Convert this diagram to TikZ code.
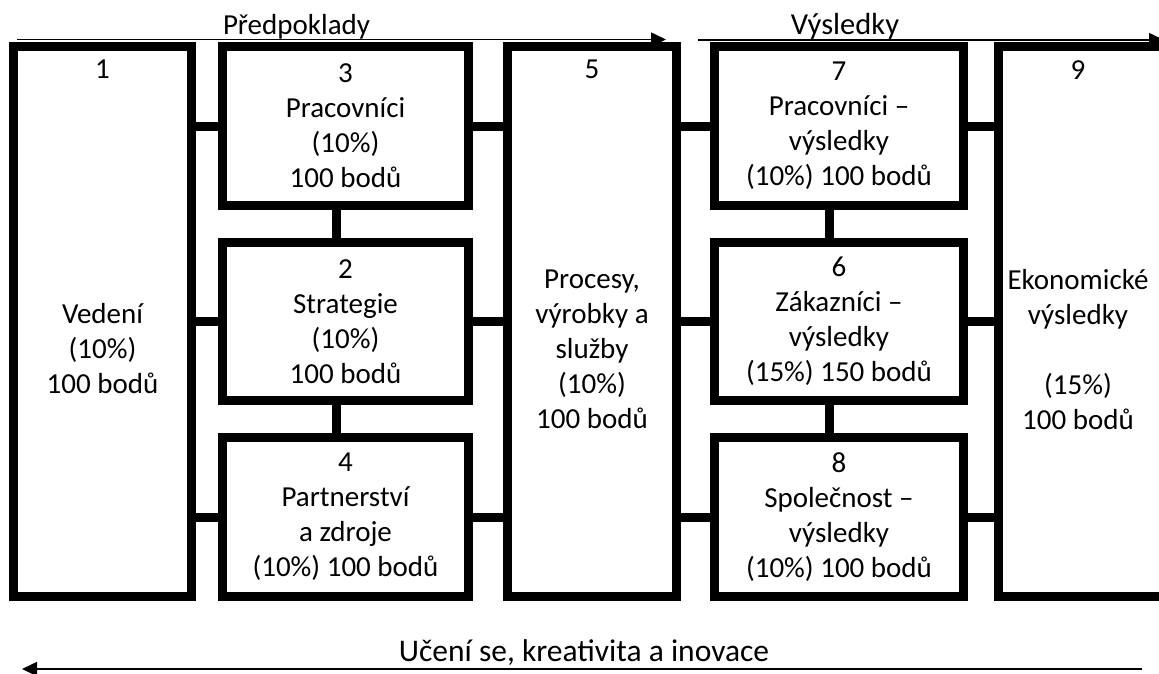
\documentclass[tikz,border=0pt]{standalone}
\usepackage{fontspec}
\setmainfont{Carlito}
\usetikzlibrary{arrows.meta}
\begin{document}
\begin{tikzpicture}[x=1pt,y=-1pt,
  txt/.style={font=\fontsize{29}{35}\selectfont, align=center, inner sep=0pt},
  box/.style={txt, draw, line width=9pt, rectangle},
  conn/.style={line width=9pt},
  flow/.style={line width=1.6pt, -{Triangle[length=15pt,width=14pt]}}]
\useasboundingbox (0,0) rectangle (1159,673);
\fill[white] (0,0) rectangle (1159,673);
\clip (0,0) rectangle (1159,673);
% boxes
\node[box, minimum width=178pt, minimum height=550pt] (b1) at (102.5,321.5) {};
\node[box, minimum width=246pt, minimum height=159pt] (b3) at (345.5,126) {3\\Pracovníci\\(10\%)\\100 bodů};
\node[box, minimum width=246pt, minimum height=158pt] (b2) at (345.5,321.5) {2\\Strategie\\(10\%)\\100 bodů};
\node[box, minimum width=246pt, minimum height=159pt] (b4) at (345.5,517) {4\\Partnerství\\a zdroje\\(10\%) 100 bodů};
\node[box, minimum width=169pt, minimum height=550pt] (b5) at (592,321.5) {};
\node[box, minimum width=249pt, minimum height=159pt] (b7) at (839,126) {7\\Pracovníci –\\výsledky\\(10\%) 100 bodů};
\node[box, minimum width=249pt, minimum height=158pt] (b6) at (839,321.5) {6\\Zákazníci –\\výsledky\\(15\%) 150 bodů};
\node[box, minimum width=249pt, minimum height=159pt] (b8) at (839,517) {8\\Společnost –\\výsledky\\(10\%) 100 bodů};
\node[box, minimum width=172pt, minimum height=550pt] (b9) at (1084.5,321.5) {};
% texts of the tall boxes
\node[txt, anchor=north] (t1) at (102.5,60) {1\\[210pt]Vedení\\(10\%)\\100 bodů};
\node[txt, anchor=north] (t5) at (592,60) {5\\[175pt]Procesy,\\výrobky a\\služby\\(10\%)\\100 bodů};
\node[txt, anchor=north] (t9) at (1078,60) {9\\[175pt]Ekonomické\\výsledky\\[35pt](15\%)\\100 bodů};
% horizontal connectors
\foreach \m in {b3,b2,b4} {
  \draw[conn] (\m.west) -- (\m.west -| b1.east);
  \draw[conn] (\m.east) -- (\m.east -| b5.west);
}
\foreach \m in {b7,b6,b8} {
  \draw[conn] (\m.west) -- (\m.west -| b5.east);
  \draw[conn] (\m.east) -- (\m.east -| b9.west);
}
% vertical connectors
\draw[conn] ([xshift=-9.5pt]b3.south) -- ([xshift=-9.5pt]b2.north);
\draw[conn] ([xshift=-9.5pt]b2.south) -- ([xshift=-9.5pt]b4.north);
\draw[conn] ([xshift=-10pt]b7.south) -- ([xshift=-10pt]b6.north);
\draw[conn] ([xshift=-10pt]b6.south) -- ([xshift=-10pt]b8.north);
% flow arrows
\coordinate (p0) at (17,39.5);
\coordinate (p1) at (666,39.5);
\coordinate (v0) at (698,40);
\coordinate (v1) at (1164,40);
\coordinate (u0) at (1142,669);
\coordinate (u1) at (22,669);
\draw[flow] (p0) -- (p1);
\draw[flow] (v0) -- (v1);
\draw[flow] (u0) -- (u1);
\node[txt, anchor=base] (lp) at (296.5,34) {Předpoklady};
\node[txt, anchor=base, font=\fontsize{30.5}{35}\selectfont] (lv) at (845,34) {Výsledky};
\node[txt, anchor=base, font=\fontsize{31.5}{35}\selectfont] (lu) at (584,661) {Učení se, kreativita a inovace};
\end{tikzpicture}
\end{document}
